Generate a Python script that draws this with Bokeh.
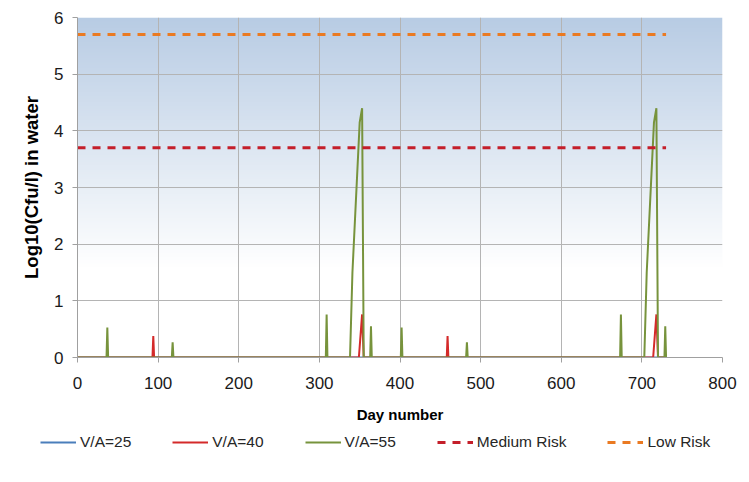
import numpy as np
from bokeh.plotting import figure
from bokeh.layouts import column
from bokeh.models import Legend, LegendItem, Range1d, FixedTicker
from bokeh.embed import file_html
from bokeh.resources import INLINE

# ---- data ----
x_ticks = [0, 100, 200, 300, 400, 500, 600, 700, 800]
y_ticks = [0, 1, 2, 3, 4, 5, 6]

days_va25 = [0, 731]
log_va25 = [0, 0]

days_va40 = [0, 93, 94, 95, 349, 353, 355, 458, 459, 460, 714, 718, 720, 731]
log_va40 = [0, 0, 0.38, 0, 0, 0.76, 0, 0, 0.38, 0, 0, 0.76, 0, 0]

days_va55 = [0, 36, 37, 38, 117, 118, 119, 308, 309, 310,
             338, 341, 350, 353, 355, 363, 364, 365,
             401, 402, 403, 482, 483, 484, 673, 674, 675,
             703, 706, 715, 718, 720, 728, 729, 730, 731]
log_va55 = [0, 0, 0.53, 0, 0, 0.27, 0, 0, 0.76, 0,
            0, 1.5, 4.15, 4.4, 0, 0, 0.55, 0,
            0, 0.53, 0, 0, 0.27, 0, 0, 0.76, 0,
            0, 1.5, 4.15, 4.4, 0, 0, 0.55, 0, 0]

risk_days = [0, 730]
medium_risk = [3.7, 3.7]
low_risk = [5.7, 5.7]

series_labels = ["V/A=25", "V/A=40", "V/A=55", "Medium Risk", "Low Risk"]
series_colors = ["#4a7ebb", "#d42a2a", "#77933c", "#c41f2a", "#ea7a22"]
series_widths = [2, 2, 2, 3, 3]
series_dashes = ["solid", "solid", "solid", "8 7", "8 7"]

FONT = "Liberation Sans"

p = figure(width=740, height=430, output_backend="svg", toolbar_location=None,
           x_range=Range1d(0, 800), y_range=Range1d(0, 6),
           min_border_left=77, min_border_right=18, min_border_top=17,
           min_border_bottom=73)
p.outline_line_color = None
p.background_fill_color = "white"
p.border_fill_color = "white"

# background gradient (decorative) spanning the plot area
N = 240
img = np.empty((N, 1), dtype=np.uint32)
view = img.view(dtype=np.uint8).reshape((N, 1, 4))
top = np.array([184, 204, 228], dtype=float)
for i in range(N):
    yv = 6.0 * (i + 0.5) / N
    f = np.clip((yv - 1.6) / (6.0 - 1.6), 0, 1)
    c = 255 - (255 - top) * f
    view[i, 0, 0] = int(c[0]); view[i, 0, 1] = int(c[1]); view[i, 0, 2] = int(c[2]); view[i, 0, 3] = 255
p.image_rgba(image=[img], x=p.x_range.start, y=p.y_range.start,
             dw=p.x_range.end - p.x_range.start, dh=p.y_range.end - p.y_range.start,
             level="image")

# grid
for g in (p.xgrid, p.ygrid):
    g.grid_line_color = "#b4b4b4"
    g.grid_line_width = 1
p.xaxis.ticker = FixedTicker(ticks=x_ticks)
p.yaxis.ticker = FixedTicker(ticks=y_ticks)
p.xgrid.ticker = FixedTicker(ticks=x_ticks)
p.ygrid.ticker = FixedTicker(ticks=y_ticks)

# axes
for ax in (p.xaxis, p.yaxis):
    ax.axis_line_color = "#a0a0a0"
    ax.major_tick_line_color = "#a0a0a0"
    ax.minor_tick_line_color = None
    ax.major_tick_out = 5
    ax.major_tick_in = 0
    ax.major_label_text_font = FONT
    ax.major_label_text_font_size = "17px"
    ax.major_label_text_color = "#1a1a1a"
    ax.axis_label_text_font = FONT
    ax.axis_label_text_font_style = "bold"
    ax.axis_label_text_color = "#000000"
p.xaxis.axis_label_text_font_size = "15px"
p.yaxis.axis_label_text_font_size = "18.5px"
p.xaxis.major_label_standoff = 14
p.yaxis.major_label_standoff = 9
p.xaxis.axis_label = "Day number"
p.yaxis.axis_label = "Log10(Cfu/l) in water"
p.xaxis.axis_label_standoff = 14
p.yaxis.axis_label_standoff = 9

# series
series_data = [(days_va25, log_va25), (days_va40, log_va40), (days_va55, log_va55),
               (risk_days, medium_risk), (risk_days, low_risk)]
for (xs, ys), col, w, d in zip(series_data, series_colors, series_widths, series_dashes):
    p.line(xs, ys, line_color=col, line_width=w, line_dash=d)

# legend strip below the chart (its own view range excludes all data, so only the legend shows)
pl = figure(width=740, height=44, output_backend="svg", toolbar_location=None,
            x_range=Range1d(1000, 1001), y_range=Range1d(100, 101),
            x_axis_location=None, y_axis_location=None, min_border=0)
pl.outline_line_color = None
pl.grid.visible = False
pl.background_fill_color = "white"
pl.border_fill_color = "white"
try:
    p.frame_align = False
    pl.frame_align = False
except Exception:
    pass
items = []
for (xs, ys), lab, col, w, d in zip(series_data, series_labels, series_colors, series_widths, series_dashes):
    r = pl.line(xs, ys, line_color=col, line_width=w, line_dash=d)
    items.append(LegendItem(label=lab, renderers=[r]))
legend = Legend(items=items, orientation="horizontal", location=(40, 22))
legend.border_line_color = None
legend.background_fill_alpha = 0
legend.label_text_font = FONT
legend.label_text_font_size = "15.5px"
legend.label_text_color = "#262626"
legend.glyph_width = 36
legend.glyph_height = 20
legend.label_standoff = 4
legend.spacing = 41
legend.padding = 0
legend.margin = 0
pl.add_layout(legend)

open("out.html", "w").write(file_html(column(p, pl, spacing=0), INLINE))
